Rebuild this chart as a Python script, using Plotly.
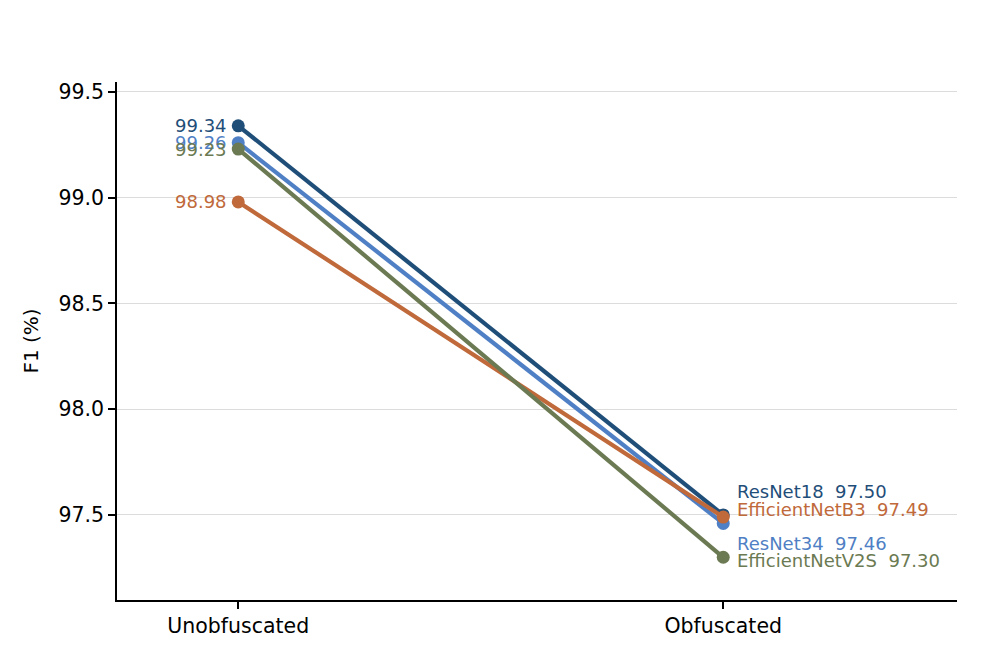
import plotly.graph_objects as go

# data
conditions = ["Unobfuscated", "Obfuscated"]
models = ["ResNet18", "ResNet34", "EfficientNetB3", "EfficientNetV2S"]
f1_unobf = [99.34, 99.26, 98.98, 99.23]
f1_obf = [97.50, 97.46, 97.49, 97.30]
colors = ["#1f4e79", "#4f7fc4", "#c0693a", "#6b7a52"]
# vertical nudges (px) for the right-hand labels so they don't overlap
right_shift = [23, -20, 8, -3]

FONT = "DejaVu Sans"

fig = go.Figure()

for name, a, b, c in zip(models, f1_unobf, f1_obf, colors):
    fig.add_trace(go.Scatter(
        x=[0, 1], y=[a, b], mode="lines+markers", name=name,
        line=dict(color=c, width=4.2),
        marker=dict(color=c, size=13),
        showlegend=False,
    ))

for name, a, b, c, dy in zip(models, f1_unobf, f1_obf, colors, right_shift):
    fig.add_annotation(x=0, y=a, text=f"{a:.2f}", showarrow=False,
                       xanchor="right", yanchor="middle", xshift=-9,
                       font=dict(family=FONT, size=18, color=c))
    fig.add_annotation(x=1, y=b, text=f"{name}  {b:.2f}", showarrow=False,
                       xanchor="left", yanchor="middle", xshift=12, yshift=dy,
                       font=dict(family=FONT, size=18, color=c))

# page body adds an 8px offset, so margins are trimmed to match
fig.update_layout(
    width=992, height=664,
    margin=dict(l=109, r=43, t=74, b=72),
    plot_bgcolor="white", paper_bgcolor="white",
    font=dict(family=FONT, size=20, color="black"),
)
fig.update_xaxes(
    range=[-0.25, 1.482], tickvals=[0, 1], ticktext=conditions,
    showgrid=False, zeroline=False,
    showline=True, linecolor="black", linewidth=1.6,
    ticks="outside", ticklen=7, tickwidth=1.6, tickcolor="black",
    tickfont=dict(size=20.5),
)
fig.update_yaxes(
    range=[97.098, 99.547], tickvals=[97.5, 98.0, 98.5, 99.0, 99.5],
    ticktext=["97.5", "98.0", "98.5", "99.0", "99.5"],
    showgrid=True, gridcolor="#dcdcdc", gridwidth=1.2, zeroline=False,
    showline=True, linecolor="black", linewidth=1.6,
    ticks="outside", ticklen=7, tickwidth=1.6, tickcolor="black",
    tickfont=dict(size=20.5),
    title=dict(text="F1 (%)", font=dict(size=20), standoff=14),
)

fig.write_html("out.html")
